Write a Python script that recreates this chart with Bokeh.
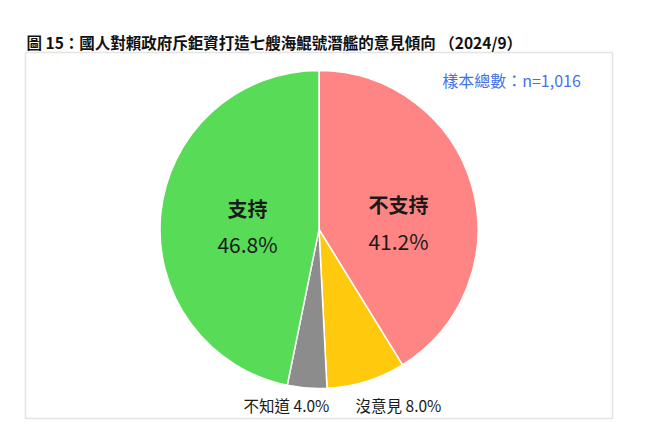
import math
from bokeh.plotting import figure
from bokeh.models import Range1d, ColumnDataSource, BoxAnnotation, Label
from bokeh.embed import file_html
from bokeh.resources import INLINE

# ---- data ----
categories = ["不支持", "沒意見", "不知道", "支持"]
shares = [41.2, 8.0, 4.0, 46.8]
colors = ["#FF8585", "#FFC90E", "#8C8C8C", "#58DC58"]
title_text = "圖 15：國人對賴政府斥鉅資打造七艘海鯤號潛艦的意見傾向 （2024/9）"
sample_text = "樣本總數：n=1,016"

W, H = 640, 427
PAGE_H = 443
FONT = "Noto Sans CJK TC"

def py(page_y):
    return PAGE_H - page_y

p = figure(width=W, height=H, output_backend="svg", toolbar_location=None,
           x_range=Range1d(0, W), y_range=Range1d(PAGE_H - H, PAGE_H),
           min_border=0, background_fill_color="white", border_fill_color="white")
p.axis.visible = False
p.grid.visible = False
p.outline_line_color = None

# frame box
p.add_layout(BoxAnnotation(left=25, right=612, top=py(52), bottom=py(418),
                           fill_alpha=0, line_color="#A6A6A6", line_width=1.5))

# pie wedges (clockwise from 12 o'clock)
total = sum(shares)
starts, ends = [], []
cum = 0.0
for s in shares:
    starts.append(math.pi / 2 - 2 * math.pi * cum / total)
    cum += s
    ends.append(math.pi / 2 - 2 * math.pi * cum / total)

src = ColumnDataSource(dict(cat=categories, share=shares, color=colors,
                            start=starts, end=ends))
cx, cy, R = 318.5, py(229), 159
p.wedge(x=cx, y=cy, radius=R, start_angle="start", end_angle="end",
        direction="clock", fill_color="color", line_color="white",
        line_width=1.5, source=src)

# labels
inner = {"支持": (247, 208, 243), "不支持": (398, 204, 240)}
outer = {"不知道": (286, 404), "沒意見": (398, 404)}
for cat, val in zip(categories, shares):
    if cat in inner:
        x, y1, y2 = inner[cat]
        p.add_layout(Label(x=x, y=py(y1), text=cat, text_font=FONT,
                           text_font_size="20px", text_font_style="bold",
                           text_align="center", text_baseline="middle",
                           text_color="#1a1a1a"))
        p.add_layout(Label(x=x, y=py(y2), text=f"{val:.1f}%", text_font=FONT,
                           text_font_size="21px", text_align="center",
                           text_baseline="middle", text_color="#1a1a1a"))
    else:
        x, y = outer[cat]
        p.add_layout(Label(x=x, y=py(y), text=f"{cat} {val:.1f}%", text_font=FONT,
                           text_font_size="15.5px", text_align="center",
                           text_baseline="middle", text_color="#1a1a1a"))

p.add_layout(Label(x=26, y=py(41), text=title_text, text_font=FONT,
                   text_font_size="15.5px", text_font_style="bold",
                   text_align="left", text_baseline="middle", text_color="#111111"))
p.add_layout(Label(x=511, y=py(79), text=sample_text, text_font=FONT,
                   text_font_size="16px", text_align="center",
                   text_baseline="middle", text_color="#4472E4"))

open("out.html", "w").write(file_html(p, INLINE))
